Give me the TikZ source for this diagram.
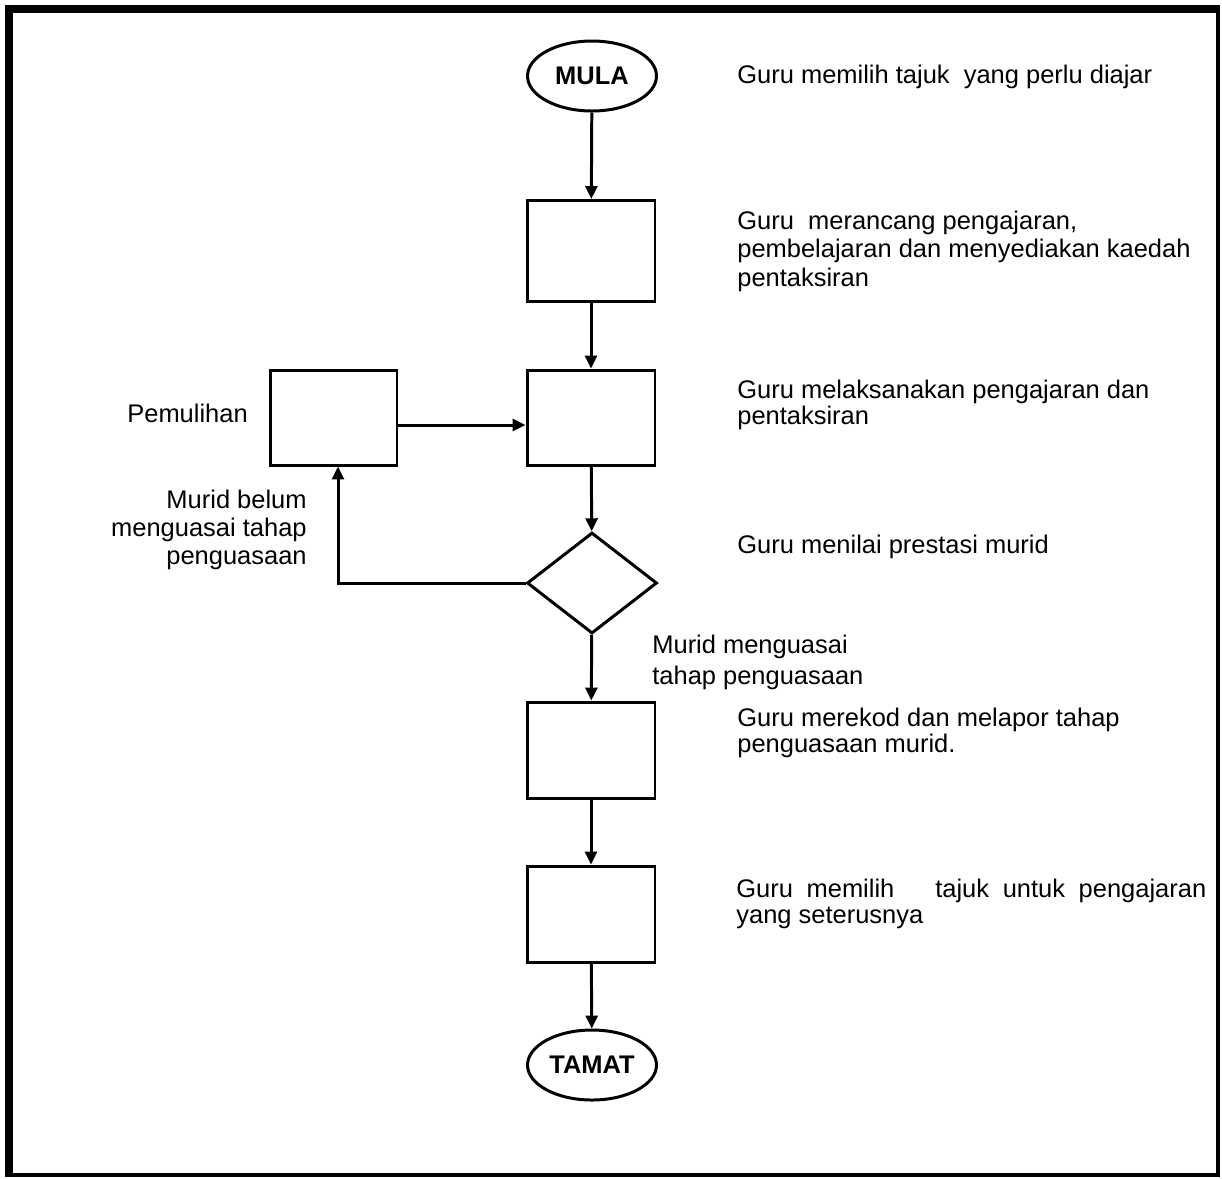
\documentclass[tikz,border=0pt]{standalone}
\usepackage{fontspec}
\setmainfont{Liberation Sans}
\usetikzlibrary{arrows.meta,shapes.geometric,positioning,calc}

\tikzset{
  kotak/.style={draw,line width=1.7pt,minimum width=2.56cm,minimum height=1.92cm,inner sep=0pt},
  bujur/.style={draw,ellipse,line width=1.7pt,minimum width=2.58cm,minimum height=1.4cm,inner sep=0pt,
    font=\fontsize{14.5}{17}\selectfont\bfseries},
  keputusan/.style={draw,diamond,line width=1.7pt,minimum width=2.6cm,minimum height=2.02cm,inner sep=0pt},
  teks/.style={inner sep=0pt,font=\fontsize{14.5}{14.8}\selectfont},
  anak/.style={line width=1.7pt,-{Triangle[length=0.26cm,width=0.24cm]}}
}

\begin{document}
\begin{tikzpicture}[x=0.02cm,y=-0.02cm]
	\useasboundingbox (0,0) rectangle (1222,1178);
	% bingkai
	\fill[black] (5,5) rectangle (1220,1177);
	\fill[white] (13,13) rectangle (1216,1173);

	\node[bujur] (mula) at (592,76) {MULA};
	\node[kotak,minimum height=2.02cm] (rancang) at (591,251) {};
	\node[kotak,minimum height=1.9cm] (laksana) at (591,417.5) {};
	\node[kotak,minimum height=1.9cm,minimum width=2.54cm] (pulih) at (333.5,417.5) {};
	\node[keputusan] (nilai) at (592,583) {};
	\node[kotak] (rekod) at (591,750) {};
	\node[kotak] (pilih) at (591,914) {};
	\node[bujur] (tamat) at (592,1065) {TAMAT};

	\draw[anak] (mula) -- (rancang);
	\draw[anak] (rancang) -- (laksana);
	\draw[anak] (laksana) -- (nilai);
	\draw[anak] (nilai) -- (rekod);
	\draw[anak] (rekod) -- (pilih);
	\draw[anak] (pilih) -- (tamat);
	\draw[anak] ([yshift=-0.15cm]pulih.east) -- ([yshift=-0.15cm]laksana.west);
	\draw[anak] (nilai.west) -| ($(pulih.south)+(4.5,0)$);

	% keterangan
	\node[teks,anchor=base west] (t1) at (737,83) {Guru memilih tajuk\ \ yang perlu diajar};
	\node[teks,anchor=base west] (t2) at (737,229)
	  {\begin{tabular}[t]{@{}l@{}}Guru\ \ merancang pengajaran,\\[1.3pt] pembelajaran dan menyediakan kaedah\\[1.3pt] pentaksiran\end{tabular}};
	\node[teks,anchor=base west] (t3) at (737,398)
	  {\begin{tabular}[t]{@{}l@{}}Guru melaksanakan pengajaran dan\\ pentaksiran\end{tabular}};
	\node[teks,anchor=base west] (t4) at (737,553) {Guru menilai prestasi murid};
	\node[teks,anchor=base west] (t5) at (652,653)
	  {\begin{tabular}[t]{@{}l@{}}Murid menguasai\\[3pt] tahap penguasaan\end{tabular}};
	\node[teks,anchor=base west] (t6) at (737,726)
	  {\begin{tabular}[t]{@{}l@{}}Guru merekod dan melapor tahap\\ penguasaan murid.\end{tabular}};
	\node[teks,anchor=base west] (t7) at (736,897)
	  {\begin{tabular}[t]{@{}l@{}}\makebox[9.4cm][s]{Guru memilih\ \ \ tajuk untuk pengajaran}\\ yang seterusnya\end{tabular}};
	\node[teks,anchor=base west] (t8) at (127,422) {Pemulihan};
	\node[teks,anchor=base east] (t9) at (307,508)
	  {\begin{tabular}[t]{@{}r@{}}Murid belum\\[1.3pt] menguasai tahap\\[1.3pt] penguasaan\end{tabular}};
\end{tikzpicture}
\end{document}
